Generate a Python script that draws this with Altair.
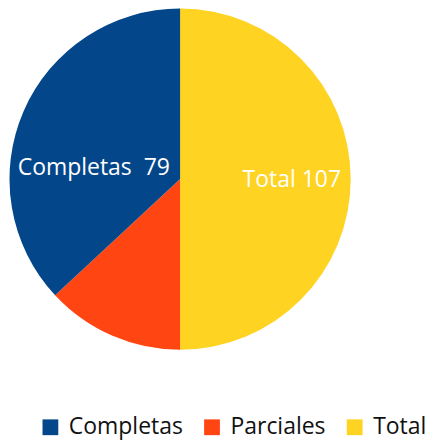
import altair as alt
import pandas as pd

categories = ["Total", "Parciales", "Completas"]
values = [107, 28, 79]
labels = ["Total\u00a0107", "", "Completas\u00a0\u00a079"]
order = [0, 1, 2]

legend_order = ["Completas", "Parciales", "Total"]
colors = ["#03478a", "#ff4511", "#ffd321"]

df = pd.DataFrame({"cat": categories, "value": values, "label": labels, "ord": order})

FONT = "Open Sans"

base = alt.Chart(df).encode(
    theta=alt.Theta("value:Q", stack=True),
    order=alt.Order("ord:Q"),
)

pie = base.mark_arc(outerRadius=171).encode(
    color=alt.Color(
        "cat:N",
        scale=alt.Scale(domain=legend_order, range=colors),
        legend=alt.Legend(
            title=None,
            orient="none",
            direction="horizontal",
            legendX=31,
            legendY=404,
            symbolType="square",
            symbolSize=250,
            symbolStrokeWidth=0,
            labelFontSize=23,
            labelFont=FONT,
            labelColor="#111111",
            labelOffset=7,
            columnPadding=17,
        ),
    )
)

txt_total = base.transform_calculate(
    t="datum.cat == 'Total' ? datum.label : ''"
).mark_text(
    radius=112, align="center", baseline="middle", font=FONT, fontSize=23,
    color="white", dy=1
).encode(text="t:N")

txt_comp = base.transform_calculate(
    t="datum.cat == 'Completas' ? datum.label : ''"
).mark_text(
    radius=90, align="center", baseline="middle", font=FONT, fontSize=23,
    color="white", dx=-4, dy=25
).encode(text="t:N")

chart = alt.layer(pie, txt_total, txt_comp).properties(
    width=345, height=334, padding=0
).configure_view(stroke=None)

chart.save("out.html", embed_options={"renderer": "svg", "actions": False})
